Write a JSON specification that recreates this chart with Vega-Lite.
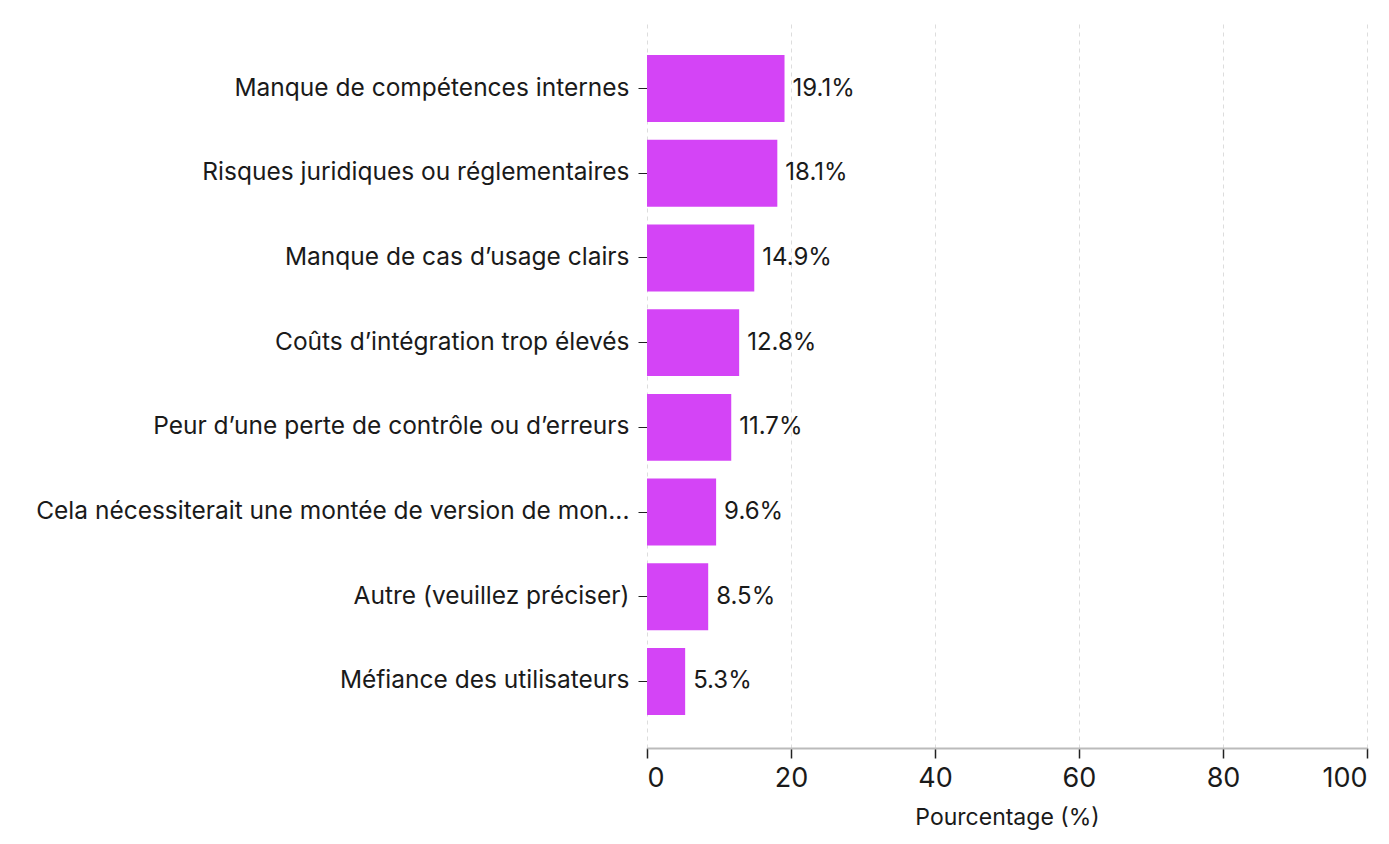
{
  "$schema": "https://vega.github.io/schema/vega-lite/v6.json",
  "autosize": "none",
  "width": 720,
  "height": 726,
  "padding": {"left": 647, "top": 22, "right": 22, "bottom": 96},
  "background": "white",
  "config": {
    "font": "Inter",
    "view": {"stroke": null}
  },
  "data": {
    "values": [
      {"cat": "Manque de compétences internes", "pct": 19.1, "label": "19.1%"},
      {"cat": "Risques juridiques ou réglementaires", "pct": 18.1, "label": "18.1%"},
      {"cat": "Manque de cas d’usage clairs", "pct": 14.9, "label": "14.9%"},
      {"cat": "Coûts d’intégration trop élevés", "pct": 12.8, "label": "12.8%"},
      {"cat": "Peur d’une perte de contrôle ou d’erreurs", "pct": 11.7, "label": "11.7%"},
      {"cat": "Cela nécessiterait une montée de version de mon...", "pct": 9.6, "label": "9.6%"},
      {"cat": "Autre (veuillez préciser)", "pct": 8.5, "label": "8.5%"},
      {"cat": "Méfiance des utilisateurs", "pct": 5.3, "label": "5.3%"}
    ]
  },
  "encoding": {
    "y": {
      "field": "cat",
      "type": "nominal",
      "sort": null,
      "scale": {"paddingInner": 0.21, "paddingOuter": 0.39},
      "axis": {
        "title": null,
        "domain": false,
        "ticks": true,
        "tickColor": "#222",
        "tickSize": 9,
        "labelFontSize": 24.5,
        "labelColor": "#1a1a1a",
        "labelPadding": 9,
        "labelLimit": 700
      }
    },
    "x": {
      "field": "pct",
      "type": "quantitative",
      "scale": {"domain": [0, 100], "nice": false},
      "axis": {
        "title": "Pourcentage (%)",
        "titleFontSize": 23,
        "titleFontWeight": "normal",
        "titleColor": "#1a1a1a",
        "titlePadding": 15,
        "values": [0, 20, 40, 60, 80, 100],
        "labelFontSize": 27,
        "labelColor": "#1a1a1a",
        "labelPadding": 7,
        "domainColor": "#bbbbbb",
        "domainWidth": 2,
        "tickColor": "#222",
        "tickSize": 10,
        "tickWidth": 1.5,
        "grid": true,
        "gridColor": "#dddddd",
        "gridDash": [4, 4],
        "gridWidth": 1
      }
    }
  },
  "layer": [
    {
      "mark": {"type": "bar", "color": "#d444f6"}
    },
    {
      "mark": {"type": "text", "align": "left", "baseline": "middle", "dx": 8, "fontSize": 24, "color": "#1a1a1a"},
      "encoding": {
        "text": {"field": "label", "type": "nominal"}
      }
    }
  ]
}
